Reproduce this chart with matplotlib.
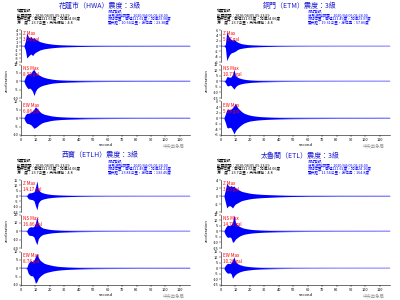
import matplotlib
matplotlib.use("Agg")
import matplotlib.pyplot as plt

plt.rcParams['font.family'] = ['Noto Sans CJK TC', 'DejaVu Sans']

# ---------------- data ----------------
TIME = [0, 2, 3, 4, 5, 6, 7, 8, 9, 10, 11, 12, 13, 14, 15, 16, 18, 20, 22, 25,
        28, 32, 36, 40, 45, 50, 60, 80, 117]

STATIONS = ["花蓮市（HWA）震度：3級", "銅門（ETM）震度：3級",
            "西寶（ETLH）震度：3級", "太魯閣（ETL）震度：3級"]
STATION_POS = ["測站位置：東經121.61度，北緯23.98度", "測站位置：東經121.49度，北緯23.97度",
               "測站位置：東經121.46度，北緯24.21度", "測站位置：東經121.62度，北緯24.16度"]
STATION_DIST = ["震央距：10.54公里，方位角：23.38度", "震央距：19.31公里，方位角：57.86度",
                "震央距：23.84公里，方位角：133.45度", "震央距：11.54公里，方位角：164.8度"]
QUAKE_INFO = ["地震資訊", "發震時間：2020/04/05 05:23:59",
              "震央位置：東經121.65度，北緯24.06度", "深　度：23.7公里，芮氏規模：4.8"]
WAVE_START = "波形起始時間：2020/04/05 05:24:00"

COMPONENTS = ["Z", "NS", "EW"]
MAX_GAL = [[3.28, 8.55, 6.86], [5.37, 10.71, 5.39],
           [14.17, 16.86, 8.74], [3.23, 14.79, 10.26]]
YLIMS = [[4, 10, 10], [6, 15, 6], [15, 20, 10], [4, 15, 15]]
YSTEPS = [[1, 5, 5], [2, 5, 2], [5, 10, 5], [2, 5, 5]]
XTICKS = [0, 10, 20, 30, 40, 50, 60, 70, 80, 90, 100, 110]

HWA_Z_UP = [0.03,0.03,1.2,3.28,2.4,2.0,2.4,1.8,2.1,1.7,1.5,1.3,1.1,1.0,0.9,0.8,0.65,0.55,0.45,0.35,0.28,0.22,0.17,0.13,0.1,0.08,0.06,0.05,0.04]
HWA_Z_LO = [-0.03,-0.03,-1.0,-3.0,-2.6,-2.2,-2.0,-2.4,-1.9,-1.6,-1.4,-1.2,-1.0,-0.9,-0.8,-0.7,-0.6,-0.5,-0.42,-0.33,-0.26,-0.2,-0.16,-0.12,-0.1,-0.08,-0.06,-0.05,-0.04]
HWA_NS_UP = [0.1,0.1,2.5,4.0,4.5,4.5,5.0,6.5,7.0,5.5,4.5,4.0,3.5,3.0,2.6,2.3,1.8,1.5,1.2,0.9,0.7,0.55,0.45,0.35,0.28,0.22,0.16,0.12,0.1]
HWA_NS_LO = [-0.1,-0.1,-2.2,-3.5,-4.5,-4.0,-4.8,-6.0,-8.55,-6.0,-4.5,-3.8,-3.2,-2.8,-2.5,-2.2,-1.8,-1.4,-1.1,-0.85,-0.7,-0.55,-0.45,-0.35,-0.28,-0.22,-0.16,-0.12,-0.1]
HWA_EW_UP = [0.1,0.1,2.0,3.0,3.0,3.2,3.8,4.5,5.5,6.86,6.0,5.0,4.0,3.2,2.8,2.4,2.0,1.6,1.3,1.0,0.8,0.6,0.5,0.4,0.3,0.25,0.18,0.12,0.1]
HWA_EW_LO = [-0.1,-0.1,-2.0,-3.0,-3.2,-3.5,-4.0,-5.0,-6.0,-5.5,-5.0,-4.2,-3.6,-3.0,-2.6,-2.3,-1.9,-1.5,-1.2,-0.95,-0.75,-0.6,-0.5,-0.4,-0.3,-0.25,-0.18,-0.12,-0.1]

ETM_Z_UP = [0.05,0.05,0.5,5.37,4.0,3.0,2.5,2.2,2.5,2.0,1.6,1.3,1.1,0.9,0.8,0.7,0.55,0.45,0.38,0.3,0.24,0.18,0.14,0.11,0.09,0.07,0.05,0.04,0.03]
ETM_Z_LO = [-0.05,-0.05,-0.5,-5.5,-4.2,-3.2,-2.6,-2.4,-2.2,-1.9,-1.5,-1.2,-1.0,-0.9,-0.8,-0.7,-0.55,-0.45,-0.38,-0.3,-0.24,-0.18,-0.14,-0.11,-0.09,-0.07,-0.05,-0.04,-0.03]
ETM_NS_UP = [0.1,0.1,1.0,4.0,4.0,3.5,4.0,6.0,10.71,5.0,4.0,3.2,2.8,2.4,2.1,1.8,1.4,1.1,0.9,0.7,0.55,0.45,0.35,0.28,0.22,0.18,0.14,0.1,0.08]
ETM_NS_LO = [-0.1,-0.1,-1.0,-3.8,-4.2,-3.5,-3.8,-5.5,-7.0,-5.0,-3.8,-3.0,-2.6,-2.3,-2.0,-1.7,-1.4,-1.1,-0.9,-0.7,-0.55,-0.45,-0.35,-0.28,-0.22,-0.18,-0.14,-0.1,-0.08]
ETM_EW_UP = [0.05,0.05,1.5,3.0,3.2,3.0,3.3,3.8,4.5,5.39,4.2,3.5,3.0,2.5,2.1,1.8,1.4,1.1,0.9,0.7,0.55,0.42,0.33,0.26,0.2,0.16,0.12,0.08,0.06]
ETM_EW_LO = [-0.05,-0.05,-1.5,-3.2,-3.5,-3.2,-3.5,-4.5,-5.6,-4.5,-3.8,-3.3,-2.8,-2.4,-2.0,-1.7,-1.3,-1.0,-0.85,-0.65,-0.52,-0.4,-0.32,-0.25,-0.2,-0.16,-0.12,-0.08,-0.06]

ETLH_Z_UP = [0.1,0.1,0.1,0.3,2.5,3.0,3.0,3.5,4.0,8.0,14.17,6.0,4.5,3.5,3.0,2.6,2.0,1.6,1.3,1.0,0.8,0.6,0.45,0.35,0.28,0.22,0.16,0.12,0.1]
ETLH_Z_LO = [-0.1,-0.1,-0.1,-0.3,-2.5,-3.0,-3.2,-3.5,-4.5,-9.0,-13.0,-6.5,-4.5,-3.5,-3.0,-2.6,-2.0,-1.6,-1.3,-1.0,-0.8,-0.6,-0.45,-0.35,-0.28,-0.22,-0.16,-0.12,-0.1]
ETLH_NS_UP = [0.15,0.15,0.15,0.5,4.0,5.0,5.5,5.0,6.0,10.0,16.86,9.0,6.5,5.0,4.0,3.5,2.8,2.2,1.8,1.4,1.1,0.85,0.65,0.5,0.4,0.3,0.22,0.15,0.12]
ETLH_NS_LO = [-0.15,-0.15,-0.15,-0.5,-4.0,-5.0,-5.0,-5.5,-7.0,-12.0,-16.0,-9.0,-6.5,-5.0,-4.0,-3.5,-2.8,-2.2,-1.8,-1.4,-1.1,-0.85,-0.65,-0.5,-0.4,-0.3,-0.22,-0.15,-0.12]
ETLH_EW_UP = [0.1,0.1,0.1,0.3,3.0,4.0,4.5,4.0,5.0,7.0,8.74,6.5,5.0,4.2,3.6,3.0,2.4,2.0,1.6,1.2,0.95,0.7,0.55,0.42,0.32,0.25,0.18,0.12,0.1]
ETLH_EW_LO = [-0.1,-0.1,-0.1,-0.3,-3.0,-4.0,-4.5,-4.5,-6.0,-9.0,-8.0,-6.0,-5.0,-4.2,-3.6,-3.0,-2.4,-2.0,-1.6,-1.2,-0.95,-0.7,-0.55,-0.42,-0.32,-0.25,-0.18,-0.12,-0.1]

ETL_Z_UP = [0.03,0.03,1.5,3.23,2.6,2.4,2.6,2.3,2.5,2.0,1.8,1.6,1.4,1.2,1.1,1.0,0.85,0.7,0.6,0.5,0.42,0.35,0.28,0.22,0.16,0.12,0.08,0.05,0.04]
ETL_Z_LO = [-0.03,-0.03,-1.5,-3.0,-2.5,-2.4,-2.6,-3.0,-2.4,-2.0,-1.8,-1.6,-1.4,-1.2,-1.1,-1.0,-0.85,-0.7,-0.6,-0.5,-0.42,-0.35,-0.28,-0.22,-0.16,-0.12,-0.08,-0.05,-0.04]
ETL_NS_UP = [0.1,0.1,3.0,5.0,5.5,5.0,6.0,8.0,14.79,8.0,6.0,5.0,4.2,3.6,3.1,2.7,2.2,1.8,1.5,1.2,0.95,0.75,0.6,0.48,0.38,0.3,0.2,0.14,0.1]
ETL_NS_LO = [-0.1,-0.1,-3.0,-5.0,-5.5,-5.0,-6.0,-10.0,-9.0,-7.0,-6.0,-5.0,-4.2,-3.6,-3.1,-2.7,-2.2,-1.8,-1.5,-1.2,-0.95,-0.75,-0.6,-0.48,-0.38,-0.3,-0.2,-0.14,-0.1]
ETL_EW_UP = [0.1,0.1,2.5,4.0,4.5,4.0,5.0,7.0,10.26,6.0,4.5,3.8,3.2,2.8,2.4,2.1,1.7,1.4,1.1,0.85,0.65,0.5,0.4,0.3,0.22,0.17,0.12,0.08,0.06]
ETL_EW_LO = [-0.1,-0.1,-2.5,-4.0,-4.5,-4.0,-5.0,-9.0,-7.0,-5.5,-4.5,-3.8,-3.2,-2.8,-2.4,-2.1,-1.7,-1.4,-1.1,-0.85,-0.65,-0.5,-0.4,-0.3,-0.22,-0.17,-0.12,-0.08,-0.06]

TRACES = [
    [(HWA_Z_UP, HWA_Z_LO), (HWA_NS_UP, HWA_NS_LO), (HWA_EW_UP, HWA_EW_LO)],
    [(ETM_Z_UP, ETM_Z_LO), (ETM_NS_UP, ETM_NS_LO), (ETM_EW_UP, ETM_EW_LO)],
    [(ETLH_Z_UP, ETLH_Z_LO), (ETLH_NS_UP, ETLH_NS_LO), (ETLH_EW_UP, ETLH_EW_LO)],
    [(ETL_Z_UP, ETL_Z_LO), (ETL_NS_UP, ETL_NS_LO), (ETL_EW_UP, ETL_EW_LO)],
]

# ---------------- layout ----------------
W, H = 400, 300
fig = plt.figure(figsize=(4, 3), dpi=100)
fig.patch.set_facecolor('white')

def rect(x0, ytop, w, h):
    return [x0 / W, 1 - (ytop + h) / H, w / W, h / H]

def ftxt(x, y, s, **kw):
    fig.text(x / W, 1 - y / H, s, **kw)

PANEL_OFF = [(0, 0), (200, 0), (0, 150), (200, 150)]
ROW_TOP = [30, 64.5, 101.5]
ROW_H = [32, 33.5, 33.5]
AX_X0, AX_W = 21, 169
TICK_FS = 2.8
BLUE = '#0000ff'

for p, (ox, oy) in enumerate(PANEL_OFF):
    ftxt(ox + 100, oy + 5.5, STATIONS[p], ha='center', va='center',
         fontsize=5, color='#1a1ad0')
    for i, line in enumerate(QUAKE_INFO):
        ftxt(ox + 17, oy + 11.7 + 3.9 * i, line, ha='left', va='center',
             fontsize=2.65, color='black')
    right_lines = ["測站資訊", WAVE_START, STATION_POS[p], STATION_DIST[p]]
    for i, line in enumerate(right_lines):
        ftxt(ox + 108, oy + 11.7 + 3.9 * i, line, ha='left', va='center',
             fontsize=2.65, color=BLUE)
    for r in range(3):
        ax = fig.add_axes(rect(ox + AX_X0, oy + ROW_TOP[r], AX_W, ROW_H[r]))
        up, lo = TRACES[p][r]
        ax.fill_between(TIME, lo, up, color=BLUE, lw=0)
        ax.plot([TIME[0], TIME[-1]], [0, 0], color=BLUE, lw=0.3)
        lim = YLIMS[p][r]
        step = YSTEPS[p][r]
        ax.set_ylim(-lim, lim)
        ticks = list(range(-lim, lim + 1, step))
        ax.set_yticks(ticks)
        ax.set_yticklabels([str(t) for t in ticks])
        ax.set_xlim(0, 117)
        ax.set_xticks(XTICKS)
        for s in ['top', 'right']:
            ax.spines[s].set_visible(False)
        ax.spines['left'].set_linewidth(0.4)
        ax.spines['bottom'].set_linewidth(0.4)
        ax.tick_params(axis='both', labelsize=TICK_FS, length=1.2, width=0.3, pad=0.8)
        if r < 2:
            ax.spines['bottom'].set_visible(False)
            ax.tick_params(axis='x', bottom=False, labelbottom=False)
        else:
            ax.set_xlabel('second', fontsize=3, labelpad=1)
        ax.text(0.01, 0.97, f"{COMPONENTS[r]} Max\n{MAX_GAL[p][r]:.2f} gal",
                transform=ax.transAxes, ha='left', va='top', fontsize=3.3,
                color='red', linespacing=1.3)
        ax.patch.set_alpha(0)
    ftxt(ox + 7, oy + 81, 'acceleration', rotation=90, ha='center', va='center',
         fontsize=2.8)
    ftxt(ox + 174, oy + 146, '中央氣象局', ha='center', va='center',
         fontsize=3.2, color='#999999')

fig.savefig('out.png', dpi=100)
